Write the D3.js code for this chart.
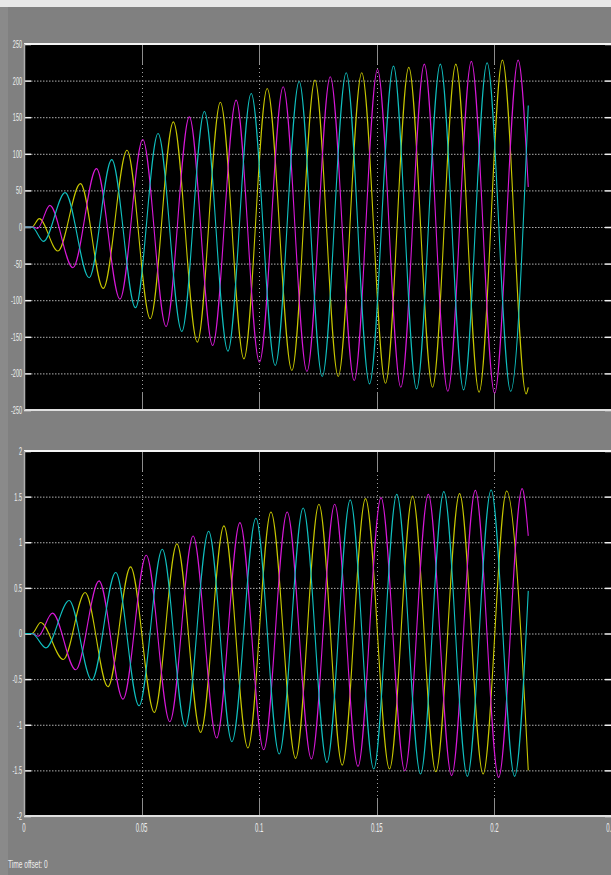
<!DOCTYPE html>
<html>
<head>
<meta charset="utf-8">
<script src="https://cdn.jsdelivr.net/npm/d3@7"></script>
<style>
body { margin: 0; background: #808080; }
svg { display: block; }
text { font-family: "Liberation Sans", Arial, sans-serif; fill: #eeeeee; }
</style>
</head>
<body>
<div id="chart"></div>
<script>
// time axis
var timeTicks = [0, 0.05, 0.1, 0.15, 0.2, 0.25];
var timeLabels = ["0", "0.05", "0.1", "0.15", "0.2", "0.25"];

// upper scope
var topTicks = [250, 200, 150, 100, 50, 0, -50, -100, -150, -200, -250];
var topLabels = ["250", "200", "150", "100", "50", "0", "-50", "-100", "-150", "-200", "-250"];

// lower scope
var bottomTicks = [2, 1.5, 1, 0.5, 0, -0.5, -1, -1.5, -2];
var bottomLabels = ["2", "1.5", "1", "0.5", "0", "-0.5", "-1", "-1.5", "-2"];

// [time, value] at the turning points of each trace
var topYellow = [[0,0],[0.0034,0],[0.0065,11.4],[0.0144,-32.8],[0.0240,59.3],[0.0337,-83.9],[0.0438,104.9],[0.0537,-125.4],
  [0.0635,143.6],[0.0737,-157.3],[0.0835,170.5],[0.0935,-180.1],[0.1034,189.2],[0.1139,-196],[0.1237,200.6],[0.1336,-204.3],
  [0.1436,210.7],[0.1537,-213.4],[0.1636,218],[0.1737,-218.9],[0.1836,222.5],[0.1935,-225.7],[0.2034,228],[0.2135,-228],[0.2144,-219]];
var topMagenta = [[0,0],[0.0040,0],[0.0058,-2],[0.0110,29.6],[0.0208,-55.6],[0.0308,79.8],[0.0408,-98.5],[0.0505,119.5],
  [0.0604,-135.9],[0.0703,150.5],[0.0802,-161.9],[0.0902,173.3],[0.1001,-184.7],[0.1102,191.5],[0.1203,-197.4],[0.1302,205.2],
  [0.1404,-209.8],[0.1503,215.2],[0.1602,-218.9],[0.1702,222.5],[0.1802,-224.4],[0.1902,226.2],[0.2001,-227.1],[0.2101,228],[0.2144,54.7]];
var topCyan = [[0,0],[0.0034,0],[0.0083,-19.6],[0.0175,47],[0.0277,-69.3],[0.0373,92.1],[0.0474,-110.4],[0.0570,127.7],
  [0.0671,-142.7],[0.0767,157.8],[0.0867,-169.6],[0.0966,182.4],[0.1068,-189.2],[0.1170,198.8],[0.1268,-204.3],[0.1370,210.7],
  [0.1469,-214.3],[0.1571,219.8],[0.1669,-221.2],[0.1770,222.5],[0.1869,-222.5],[0.1969,224.4],[0.2069,-224.4],[0.2144,166]];

var bottomYellow = [[0,0],[0.0034,0],[0.0071,0.120],[0.0167,-0.285],[0.0260,0.449],[0.0357,-0.584],[0.0453,0.730],[0.0554,-0.865],
  [0.0650,0.982],[0.0751,-1.084],[0.0850,1.179],[0.0952,-1.255],[0.1050,1.332],[0.1155,-1.369],[0.1254,1.416],[0.1353,-1.442],
  [0.1452,1.478],[0.1554,-1.485],[0.1652,1.507],[0.1751,-1.515],[0.1852,1.533],[0.1952,-1.540],[0.2052,1.562],[0.2144,-1.50]];
var bottomMagenta = [[0,0],[0.0034,0],[0.0060,-0.03],[0.0121,0.223],[0.0220,-0.398],[0.0319,0.577],[0.0421,-0.719],[0.0520,0.858],
  [0.0620,-0.967],[0.0719,1.069],[0.0819,-1.146],[0.0918,1.215],[0.1019,-1.274],[0.1119,1.332],[0.1222,-1.376],[0.1321,1.416],
  [0.1420,-1.456],[0.1518,1.489],[0.1619,-1.504],[0.1719,1.526],[0.1818,-1.558],[0.1919,1.569],[0.2018,-1.577],[0.2118,1.588],[0.2144,1.07]];
var bottomCyan = [[0,0],[0.0034,0],[0.0093,-0.157],[0.0192,0.361],[0.0288,-0.511],[0.0390,0.668],[0.0489,-0.792],[0.0588,0.923],
  [0.0686,-1.018],[0.0785,1.120],[0.0884,-1.186],[0.0986,1.263],[0.1085,-1.321],[0.1187,1.376],[0.1288,-1.412],[0.1387,1.464],
  [0.1487,-1.485],[0.1585,1.526],[0.1686,-1.540],[0.1785,1.555],[0.1885,-1.566],[0.1986,1.573],[0.2086,-1.566],[0.2144,0.467]];

function init(){

var w = 611;
var h = 875;
var left = 24;
var right = 612;

var svg = d3.select("#chart")
            .append("svg")
            .attr("width", w)
            .attr("height", h);

// window frame bits
svg.append("rect").attr("x", 0).attr("y", 0).attr("width", w).attr("height", h).attr("fill", "#808080");
svg.append("rect").attr("x", 0).attr("y", 0).attr("width", 8).attr("height", h).attr("fill", "#8a8a8a");
svg.append("rect").attr("x", 0).attr("y", 0).attr("width", w).attr("height", 7).attr("fill", "#e8e8e8");

var x = d3.scaleLinear().domain([0, 0.25]).range([left, right]);

function panel(top, bottom, domain, ticks, labels, series){
    var y = d3.scaleLinear().domain(domain).range([bottom, top]);
    var g = svg.append("g");

    g.append("rect")
        .attr("x", left)
        .attr("y", top)
        .attr("width", right - left)
        .attr("height", bottom - top)
        .attr("fill", "black");

    // horizontal grid
    g.selectAll(".hgrid")
        .data(ticks.slice(1, ticks.length - 1))
        .enter()
        .append("line")
        .attr("x1", left + 7)
        .attr("x2", right - 7)
        .attr("y1", function(d){ return y(d) + 0.5; })
        .attr("y2", function(d){ return y(d) + 0.5; })
        .attr("stroke", "#b0b0b0")
        .attr("stroke-dasharray", "1.5,1.5");

    // vertical grid
    g.selectAll(".vgrid")
        .data(timeTicks.slice(1, timeTicks.length - 1))
        .enter()
        .append("line")
        .attr("x1", function(d){ return Math.round(x(d)) + 0.5; })
        .attr("x2", function(d){ return Math.round(x(d)) + 0.5; })
        .attr("y1", top + 20)
        .attr("y2", bottom - 20)
        .attr("stroke", "#a0a0a0")
        .attr("stroke-dasharray", "1,3");

    // x ticks, top and bottom
    timeTicks.slice(1, timeTicks.length - 1).forEach(function(d){
        var xx = Math.round(x(d)) + 0.5;
        g.append("line").attr("x1", xx).attr("x2", xx).attr("y1", top).attr("y2", top + 20).attr("stroke", "#8c8c8c");
        g.append("line").attr("x1", xx).attr("x2", xx).attr("y1", bottom - 18).attr("y2", bottom).attr("stroke", "#8c8c8c");
    });

    // y ticks, left and right
    g.selectAll(".ytickl")
        .data(ticks)
        .enter()
        .append("line")
        .attr("x1", left)
        .attr("x2", left + 7)
        .attr("y1", function(d){ return y(d) + 0.5; })
        .attr("y2", function(d){ return y(d) + 0.5; })
        .attr("stroke", "#f0f0f0")
        .attr("stroke-width", 1.5);
    g.selectAll(".ytickr")
        .data(ticks)
        .enter()
        .append("line")
        .attr("x1", right - 7)
        .attr("x2", right)
        .attr("y1", function(d){ return y(d) + 0.5; })
        .attr("y2", function(d){ return y(d) + 0.5; })
        .attr("stroke", "#f0f0f0")
        .attr("stroke-width", 1.5);

    // traces
    var line = d3.line()
        .x(function(d){ return x(d[0]); })
        .y(function(d){ return y(d[1]); })
        .curve(d3.curveMonotoneX);

    g.selectAll(".trace")
        .data(series)
        .enter()
        .append("path")
        .attr("d", function(d){ return line(d.values); })
        .attr("fill", "none")
        .attr("stroke", function(d){ return d.color; })
        .attr("stroke-width", 1.1);

    // frame
    g.append("line").attr("x1", left).attr("x2", right).attr("y1", top).attr("y2", top)
        .attr("stroke", "#f4f4f4").attr("stroke-width", 2);
    g.append("line").attr("x1", left).attr("x2", right).attr("y1", bottom).attr("y2", bottom)
        .attr("stroke", "#e0e0e0").attr("stroke-width", 2);
    g.append("line").attr("x1", left + 0.5).attr("x2", left + 0.5).attr("y1", top).attr("y2", bottom)
        .attr("stroke", "#b0b0b0").attr("stroke-width", 1.5);

    // y labels
    g.selectAll(".ylab")
        .data(ticks)
        .enter()
        .append("text")
        .attr("transform", function(d){ return "translate(22," + y(d) + ") scale(0.5,1)"; })
        .attr("text-anchor", "end")
        .attr("dy", "0.36em")
        .attr("font-size", "11px")
        .text(function(d, i){ return labels[i]; });

    return y;
}

panel(44, 410, [-250, 250], topTicks, topLabels, [
    {color: "#c8c800", values: topYellow},
    {color: "#d818d8", values: topMagenta},
    {color: "#10c0c0", values: topCyan}
]);

panel(451, 816, [-2, 2], bottomTicks, bottomLabels, [
    {color: "#c8c800", values: bottomYellow},
    {color: "#d818d8", values: bottomMagenta},
    {color: "#10c0c0", values: bottomCyan}
]);

// time labels under lower scope (the last one runs off the edge, as in the scope window)
svg.selectAll(".xlab")
    .data(timeTicks)
    .enter()
    .append("text")
    .attr("transform", function(d){ return "translate(" + x(d) + ",832) scale(0.5,1)"; })
    .attr("text-anchor", "middle")
    .attr("font-size", "12px")
    .text(function(d, i){ return timeLabels[i]; });

svg.append("text")
    .attr("transform", "translate(8,868) scale(0.6,1)")
    .attr("font-size", "11px")
    .text("Time offset:  0");

}

window.onload = init;
</script>
</body>
</html>
